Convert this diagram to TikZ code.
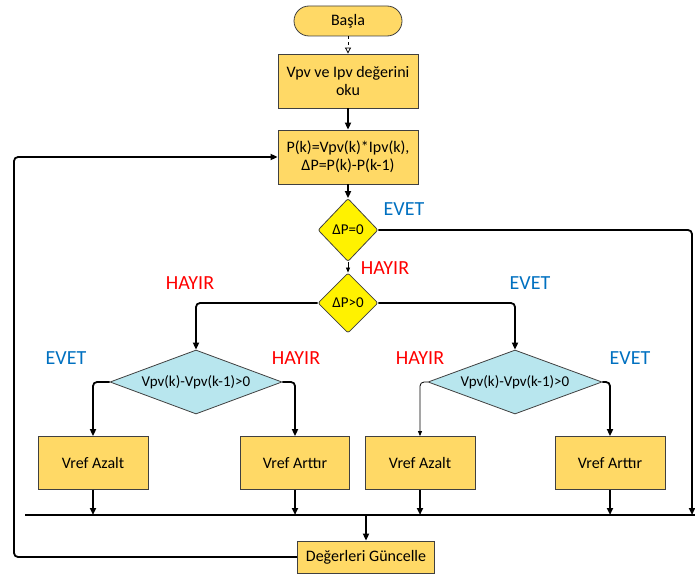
\documentclass[tikz,border=0pt]{standalone}
\usepackage{fontspec}
\setmainfont{Carlito}
\usetikzlibrary{arrows.meta,shapes.geometric}
\definecolor{boxfill}{HTML}{FFD966}
\definecolor{cyanfill}{HTML}{B8E6EE}
\definecolor{yes}{HTML}{0070C0}
\definecolor{no}{HTML}{FF0000}
\begin{document}
\begin{tikzpicture}[x=1pt,y=-1pt,
  proc/.style={draw=black!75, fill=boxfill, line width=0.8pt, align=center, inner sep=0pt, font=\fontsize{16}{18.5}\selectfont},
  dec/.style={diamond, draw=black!75, line width=0.8pt, inner sep=0pt, align=center, font=\fontsize{15}{16}\selectfont},
  lbl/.style={font=\fontsize{20}{22}\selectfont},
  arr/.style={line width=1.8pt, -{Triangle[length=7pt,width=6pt]}},
  thinarr/.style={line width=0.8pt, -{Triangle[length=5pt,width=4pt]}},
  plain/.style={line width=1.8pt},
  dasharr/.style={line width=0.8pt, dashed, -{Triangle[open,length=6pt,width=6pt]}}]
\useasboundingbox (0,0) rectangle (695,575);
\node[proc, rounded corners=15pt, minimum width=108pt, minimum height=30pt] (start) at (348,21) {Başla};
\node[proc, minimum width=140pt, minimum height=54pt] (read) at (348,81) {Vpv ve Ipv değerini\\oku};
\node[proc, minimum width=140pt, minimum height=54pt] (calc) at (348,157) {P(k)=Vpv(k)*Ipv(k),\\ΔP=P(k)-P(k-1)};
\node[dec, fill=yellow, rounded corners=2pt, aspect=0.95, minimum width=60pt, minimum height=63pt] (d1) at (348,230) {ΔP=0};
\node[dec, fill=yellow, rounded corners=2pt, aspect=1, minimum width=60pt, minimum height=60pt] (d2) at (348,303) {ΔP>0};
\node[dec, fill=cyanfill, aspect=2.7, minimum width=172pt, minimum height=64pt] (d3) at (196,382) {Vpv(k)-Vpv(k-1)>0};
\node[dec, fill=cyanfill, aspect=2.7, minimum width=174pt, minimum height=64pt] (d4) at (515,382) {Vpv(k)-Vpv(k-1)>0};
\node[proc, minimum width=110pt, minimum height=53pt] (b1) at (93,463) {Vref Azalt};
\node[proc, minimum width=109pt, minimum height=53pt] (b2) at (295,463) {Vref Arttır};
\node[proc, minimum width=110pt, minimum height=53pt] (b3) at (420,463) {Vref Azalt};
\node[proc, minimum width=110pt, minimum height=53pt] (b4) at (610,463) {Vref Arttır};
\node[proc, minimum width=137pt, minimum height=32pt] (upd) at (366,557) {Değerleri Güncelle};
% labels
\node[lbl, text=yes] (l1) at (404,209) {EVET};
\node[lbl, text=no] (l2) at (385,268) {HAYIR};
\node[lbl, text=no] (l3) at (190,283) {HAYIR};
\node[lbl, text=yes] (l4) at (530,283) {EVET};
\node[lbl, text=yes] (l5) at (66,358) {EVET};
\node[lbl, text=no] (l6) at (296,358) {HAYIR};
\node[lbl, text=no] (l7) at (420,358) {HAYIR};
\node[lbl, text=yes] (l8) at (630,358) {EVET};
% coordinates
\coordinate (busL) at (25,515);
\coordinate (busR) at (695,515);
\coordinate (rightC) at (692,515);
\coordinate (loopL) at (14,157);
% connectors
\draw[dasharr] (start) -- (read);
\draw[arr] (read) -- (calc);
\draw[arr] (calc) -- (d1);
\draw[thinarr] (d1) -- (d2);
\draw[arr, rounded corners=4pt] (d1.east) -| (rightC);
\draw[arr, rounded corners=4pt] (d2.west) -| (d3.north);
\draw[arr, rounded corners=4pt] (d2.east) -| (d4.north);
\draw[arr, rounded corners=4pt] (d3.west) -| (b1.north);
\draw[arr, rounded corners=4pt] (d3.east) -| (b2.north);
\draw[thinarr, rounded corners=4pt] (d4.west) -| (b3.north);
\draw[arr, rounded corners=4pt] (d4.east) -| (b4.north);
\draw[plain] (busL) -- (busR);
\draw[arr] (b1.south) -- (b1.south |- busL);
\draw[arr] (b2.south) -- (b2.south |- busL);
\draw[arr] (b3.south) -- (b3.south |- busL);
\draw[arr] (b4.south) -- (b4.south |- busL);
\draw[arr] (upd.north |- busL) -- (upd.north);
\draw[arr, rounded corners=4pt] (upd.west) -| (loopL) -- (calc.west);
\end{tikzpicture}
\end{document}
